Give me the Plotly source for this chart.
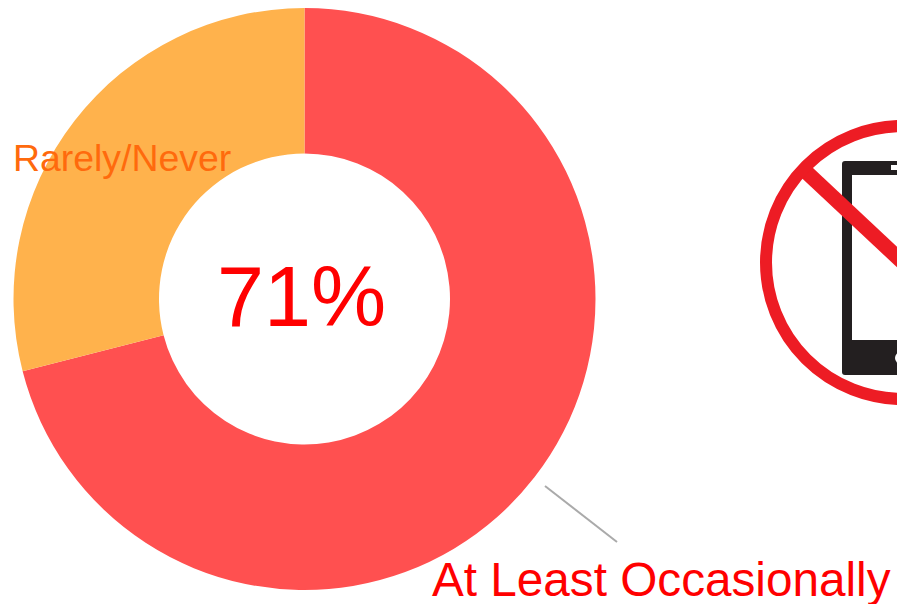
import plotly.graph_objects as go

categories = ["At Least Occasionally", "Rarely/Never"]
values = [71, 29]
center_label = "71%"

W, H = 897, 604
def px(x): return x / W
def py(y): return 1 - y / H

colors = ["#FF5050", "#FFB24C"]

fig = go.Figure(go.Pie(
    labels=categories, values=values, hole=0.5, sort=False,
    direction="clockwise", rotation=0,
    marker=dict(colors=colors, line=dict(width=0)),
    textinfo="none", hoverinfo="label+percent", showlegend=False,
    domain=dict(x=[px(13.5), px(595.5)], y=[py(590), py(8)]),
))

def rect(x0, y0, x1, y1, color):
    return dict(type="rect", xref="paper", yref="paper", x0=px(x0), x1=px(x1),
                y0=py(y0), y1=py(y1), fillcolor=color, line=dict(width=0), layer="above")

def path_rounded(x0, y0, x1, y1, r, color):
    X0, X1, Y0, Y1 = px(x0), px(x1), py(y0), py(y1)
    rx, ry = r / W, r / H
    p = (f"M {X0+rx} {Y0} L {X1} {Y0} L {X1} {Y1} L {X0+rx} {Y1} "
         f"Q {X0} {Y1} {X0} {Y1+ry} L {X0} {Y0-ry} Q {X0} {Y0} {X0+rx} {Y0} Z")
    return dict(type="path", xref="paper", yref="paper", path=p, fillcolor=color,
                line=dict(width=0), layer="above")

shapes = [
    # phone icon
    path_rounded(842, 161, 960, 375, 3, "#231F20"),
    rect(852, 175, 960, 340, "#FFFFFF"),
    rect(891, 165, 910, 170, "#FFFFFF"),
    dict(type="circle", xref="paper", yref="paper", x0=px(895), x1=px(907),
         y0=py(364), y1=py(352), fillcolor="#FFFFFF", line=dict(width=0), layer="above"),
    # prohibition sign
    dict(type="line", xref="paper", yref="paper", x0=px(802), y0=py(168), x1=px(960), y1=py(316),
         line=dict(color="#ED1C24", width=15), layer="above"),
    dict(type="circle", xref="paper", yref="paper", x0=px(766), x1=px(1040),
         y0=py(399), y1=py(126), fillcolor="rgba(0,0,0,0)",
         line=dict(color="#ED1C24", width=12), layer="above"),
    # leader line
    dict(type="line", xref="paper", yref="paper", x0=px(545), y0=py(486), x1=px(617), y1=py(542),
         line=dict(color="#AAAAAA", width=2), layer="above"),
]

FONT = "Liberation Sans, Arial, sans-serif"
annotations = [
    dict(text=center_label, xref="paper", yref="paper", x=px(301.5), y=py(297),
         xanchor="center", yanchor="middle", showarrow=False,
         font=dict(family=FONT, size=84.5, color="#FF0000")),
    dict(text=categories[1], xref="paper", yref="paper", x=px(11), y=py(158),
         xanchor="left", yanchor="middle", showarrow=False,
         font=dict(family=FONT, size=37.4, color="#FF6A0D")),
    dict(text=categories[0], xref="paper", yref="paper", x=px(430), y=py(579),
         xanchor="left", yanchor="middle", showarrow=False,
         font=dict(family=FONT, size=47.7, color="#FF0000")),
]

fig.update_layout(width=W, height=H, margin=dict(l=0, r=0, t=0, b=0),
                  paper_bgcolor="white", plot_bgcolor="white",
                  shapes=shapes, annotations=annotations)
fig.write_html("out.html", config=dict(displayModeBar=False),
               post_script="document.body.style.margin='0';document.body.style.overflow='hidden';")
